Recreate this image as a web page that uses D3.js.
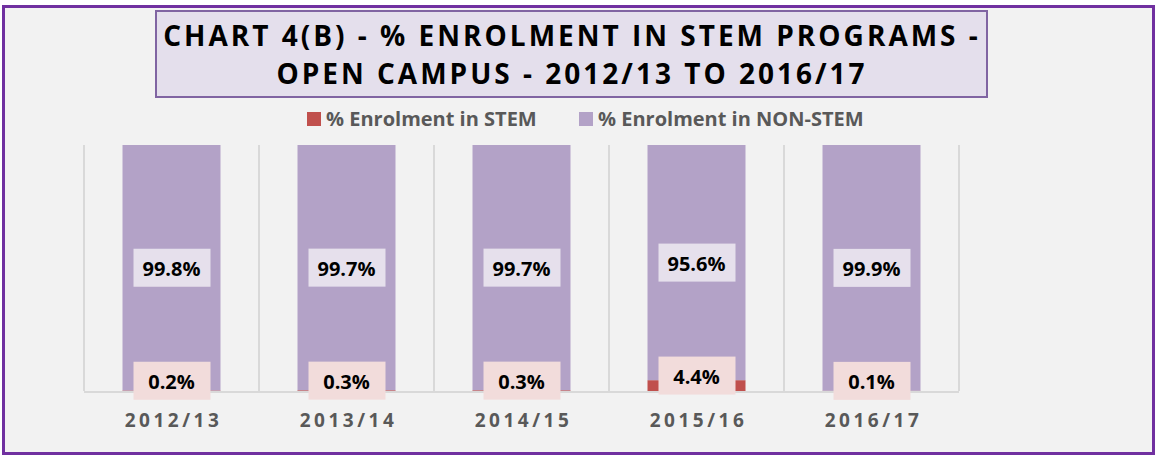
<!doctype html>
<html>
<head>
<meta charset="utf-8">
<script src="https://d3js.org/d3.v7.min.js"></script>
<style>
  body { margin: 0; background: #fff; }
  svg { display: block; font-family: "Open Sans", "Noto Sans", sans-serif; }
</style>
</head>
<body>
<svg id="chart" width="1156" height="456"></svg>
<script>
    // data
    var years = ["2012/13", "2013/14", "2014/15", "2015/16", "2016/17"];
    var stem = [0.2, 0.3, 0.3, 4.4, 0.1];
    var nonStem = [99.8, 99.7, 99.7, 95.6, 99.9];
    var seriesNames = ["% Enrolment in STEM", "% Enrolment in NON-STEM"];
    var titleLines = ["CHART 4(B) - % ENROLMENT IN STEM PROGRAMS -", "OPEN CAMPUS - 2012/13 TO 2016/17"];

    var colors = {stem: "#C0504D", nonStem: "#B3A2C7"};
    var plot = {left: 84, right: 959, top: 145, bottom: 391};

    var svg = d3.select("#chart");

    // outer frame
    svg.append("rect")
        .attr("x", 3.5).attr("y", 6.5)
        .attr("width", 1150).attr("height", 447)
        .attr("fill", "#F2F2F2")
        .attr("stroke", "#7030A0")
        .attr("stroke-width", 3);

    // title box
    svg.append("rect")
        .attr("x", 156).attr("y", 11)
        .attr("width", 831).attr("height", 86)
        .attr("fill", "#E4DFEC")
        .attr("stroke", "#8064A2")
        .attr("stroke-width", 2);

    svg.append("g").selectAll("text")
        .data(titleLines)
        .join("text")
        .attr("x", 572)
        .attr("y", (d, i) => 46 + i * 38)
        .attr("text-anchor", "middle")
        .attr("font-size", 28)
        .attr("font-weight", "bold")
        .attr("letter-spacing", 3)
        .attr("fill", "#000")
        .text(d => d);

    // legend
    var legendX = [307, 579];
    var legend = svg.append("g").selectAll("g")
        .data(seriesNames)
        .join("g")
        .attr("transform", (d, i) => `translate(${legendX[i]}, 119)`);
    legend.append("rect")
        .attr("x", 0).attr("y", -7)
        .attr("width", 14).attr("height", 14)
        .attr("fill", (d, i) => i == 0 ? colors.stem : colors.nonStem);
    legend.append("text")
        .attr("x", 19).attr("y", 7)
        .attr("font-size", 20)
        .attr("font-weight", "bold")
        .attr("fill", "#595959")
        .text(d => d);

    var x = d3.scaleBand()
        .domain(years)
        .range([plot.left, plot.right])
        .paddingInner(0.44)
        .paddingOuter(0.22);

    var y = d3.scaleLinear()
        .domain([0, 100])
        .range([plot.bottom, plot.top]);

    // vertical gridlines between categories
    svg.append("g").selectAll("line")
        .data(d3.range(years.length + 1))
        .join("line")
        .attr("x1", i => plot.left + i * (plot.right - plot.left) / years.length)
        .attr("x2", i => plot.left + i * (plot.right - plot.left) / years.length)
        .attr("y1", plot.top)
        .attr("y2", plot.bottom)
        .attr("stroke", "#D9D9D9")
        .attr("stroke-width", 2);

    var rows = years.map((yr, i) => ({year: yr, stem: stem[i], nonStem: nonStem[i]}));

    // stacked bars
    var bars = svg.append("g");
    bars.selectAll(".stem")
        .data(rows)
        .join("rect")
        .attr("class", "stem")
        .attr("x", d => x(d.year))
        .attr("width", x.bandwidth())
        .attr("y", d => y(d.stem))
        .attr("height", d => y(0) - y(d.stem))
        .attr("fill", colors.stem);
    bars.selectAll(".nonstem")
        .data(rows)
        .join("rect")
        .attr("class", "nonstem")
        .attr("x", d => x(d.year))
        .attr("width", x.bandwidth())
        .attr("y", d => y(d.stem + d.nonStem))
        .attr("height", d => y(d.stem) - y(d.stem + d.nonStem))
        .attr("fill", colors.nonStem);

    // baseline
    svg.append("line")
        .attr("x1", plot.left).attr("x2", plot.right)
        .attr("y1", plot.bottom + 1).attr("y2", plot.bottom + 1)
        .attr("stroke", "#D9D9D9")
        .attr("stroke-width", 2);

    // data labels with filled boxes
    function addLabel(g, cx, cy, txt, fill) {
        g.append("rect")
            .attr("x", cx - 38).attr("y", cy - 19)
            .attr("width", 77).attr("height", 38)
            .attr("fill", fill);
        g.append("text")
            .attr("x", cx).attr("y", cy + 8)
            .attr("text-anchor", "middle")
            .attr("font-size", 20)
            .attr("font-weight", "bold")
            .attr("fill", "#000")
            .text(txt);
    }

    var labels = svg.append("g");
    rows.forEach(d => {
        var cx = x(d.year) + x.bandwidth() / 2;
        addLabel(labels, cx, y(d.stem + d.nonStem / 2), d.nonStem.toFixed(1) + "%", "#E6E0EC");
        addLabel(labels, cx, y(d.stem / 2) - 10, d.stem.toFixed(1) + "%", "#F2DCDB");
    });

    // x axis labels
    svg.append("g").selectAll("text")
        .data(years)
        .join("text")
        .attr("x", d => x(d) + x.bandwidth() / 2 + 2)
        .attr("y", 427)
        .attr("text-anchor", "middle")
        .attr("font-size", 19)
        .attr("font-weight", "bold")
        .attr("letter-spacing", 3.5)
        .attr("fill", "#595959")
        .text(d => d);
</script>
</body>
</html>
